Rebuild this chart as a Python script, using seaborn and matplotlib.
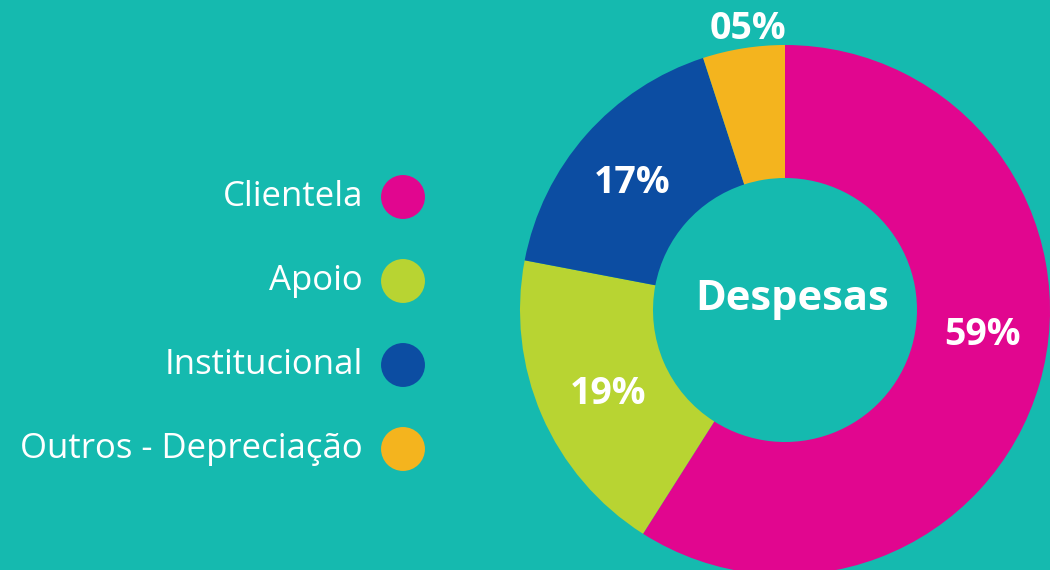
import numpy as np
import matplotlib.pyplot as plt
import seaborn as sns

# data
categories = ['Clientela', 'Apoio', 'Institucional', 'Outros - Depreciação']
values = [59, 19, 17, 5]
colors = ['#E1068F', '#B8D432', '#0C4DA2', '#F4B41E']
center_label = 'Despesas'

bg = '#15BAAF'
sns.set_theme(style='white')
plt.rcParams['font.family'] = ['Open Sans', 'DejaVu Sans']

fig = plt.figure(figsize=(10.5, 5.7), dpi=100, facecolor=bg)
ax = fig.add_axes([0, 0, 1, 1])
ax.set_facecolor(bg)

# donut, in pixel-like data units (y up)
cx, cy, R, width = 785, 260, 265, 133
wedges, texts, autotexts = ax.pie(
    values, colors=colors, radius=R, center=(cx, cy), startangle=90,
    counterclock=False, wedgeprops=dict(width=width, linewidth=0),
    autopct='%02.0f%%', pctdistance=0.75,
    textprops=dict(color='white', fontsize=27, fontweight='bold'))

# nudge labels: big slice label sits a bit higher, small slice label outside
shift = [9, 2, 1.5, -1.5]
dist = [0.75, 0.74, 0.75, 1.07]
for w, t, d, s in zip(wedges, autotexts, dist, shift):
    ang = np.deg2rad((w.theta1 + w.theta2) / 2 + s)
    t.set_position((cx + d * R * np.cos(ang), cy + d * R * np.sin(ang)))

ax.text(cx + 7, cy + 10, center_label, ha='center', va='center', color='white',
        fontsize=30, fontweight='bold')

# legend: label text then a coloured dot on the right
for i, (cat, col) in enumerate(zip(categories, colors)):
    y = 373 - i * 84
    ax.scatter([403], [y], s=1000, color=col, edgecolors='none', zorder=3)
    ax.text(363, y, cat, ha='right', va='center', color='white', fontsize=25)

ax.set_xlim(0, 1050)
ax.set_ylim(0, 570)
ax.set_aspect('equal')
ax.axis('off')

fig.savefig('out.png', dpi=100, facecolor=bg)
